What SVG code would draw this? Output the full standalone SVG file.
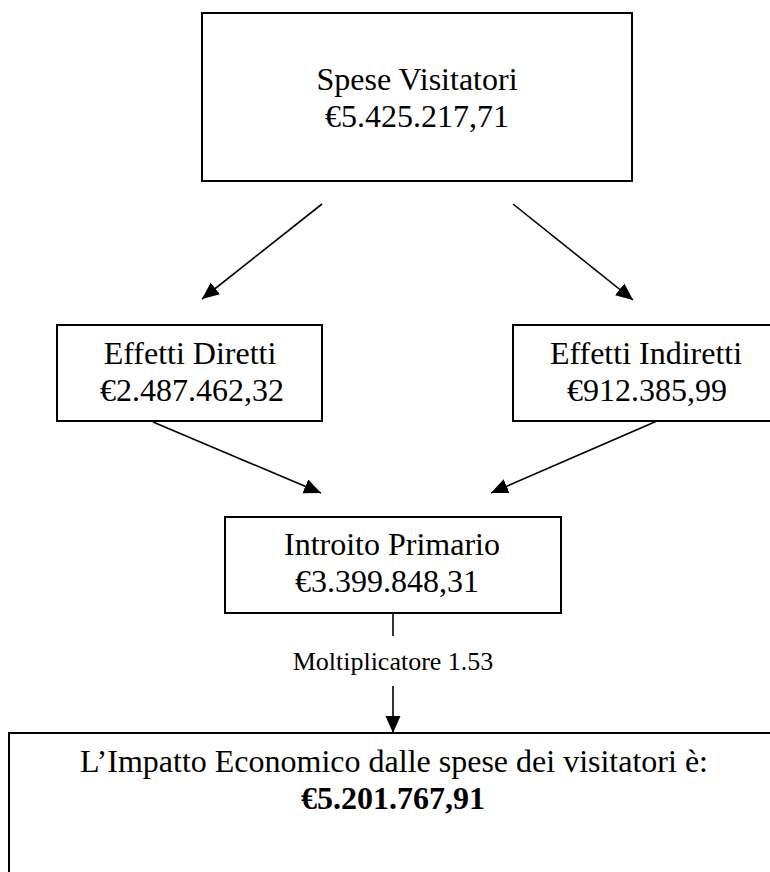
<svg xmlns="http://www.w3.org/2000/svg" width="770" height="872" viewBox="0 0 770 872">
<style>
.box{fill:#fff;stroke:#000;stroke-width:2}
.t{font-family:"Liberation Serif","Times New Roman",serif;font-size:32px;fill:#000;text-anchor:middle}
.b{font-weight:bold}
.lbl{font-family:"Liberation Serif","Times New Roman",serif;font-size:26px;fill:#000;text-anchor:middle}
.c{stroke:#000;stroke-width:1.6;fill:none}
</style>
<defs>
<marker id="ah" markerUnits="userSpaceOnUse" markerWidth="18" markerHeight="16" refX="17" refY="7.5" orient="auto">
<path d="M0,0 L17,7.5 L0,15 z" fill="#000"/>
</marker>
</defs>
<rect width="770" height="872" fill="#fff"/>
<g id="spese">
<rect class="box" x="202" y="13" width="430" height="168"/>
<text class="t" x="417" y="90">Spese Visitatori</text>
<text class="t" x="417" y="127">€5.425.217,71</text>
</g>
<g id="diretti">
<rect class="box" x="57" y="325" width="265" height="96"/>
<text class="t" x="190" y="364">Effetti Diretti</text>
<text class="t" x="192" y="401">€2.487.462,32</text>
</g>
<g id="indiretti">
<rect class="box" x="513" y="325" width="267" height="96"/>
<text class="t" x="646" y="364">Effetti Indiretti</text>
<text class="t" x="647" y="401">€912.385,99</text>
</g>
<g id="introito">
<rect class="box" x="225" y="517" width="336" height="96"/>
<text class="t" x="392" y="555">Introito Primario</text>
<text class="t" x="387" y="592">€3.399.848,31</text>
</g>
<g id="impatto">
<rect class="box" x="9" y="733" width="780" height="160"/>
<text class="t" x="394" y="772">L’Impatto Economico dalle spese dei visitatori è:</text>
<text class="t b" x="393" y="809">€5.201.767,91</text>
</g>
<g id="connectors">
<line class="c" x1="322" y1="204" x2="202" y2="299" marker-end="url(#ah)"/>
<line class="c" x1="513" y1="204" x2="633" y2="300" marker-end="url(#ah)"/>
<line class="c" x1="153" y1="422" x2="321" y2="493" marker-end="url(#ah)"/>
<line class="c" x1="657" y1="421" x2="491" y2="493" marker-end="url(#ah)"/>
<line class="c" x1="393" y1="613" x2="393" y2="636"/>
<line class="c" x1="393" y1="686" x2="393" y2="733" marker-end="url(#ah)"/>
<text class="lbl" x="393" y="670">Moltiplicatore 1.53</text>
</g>
</svg>
